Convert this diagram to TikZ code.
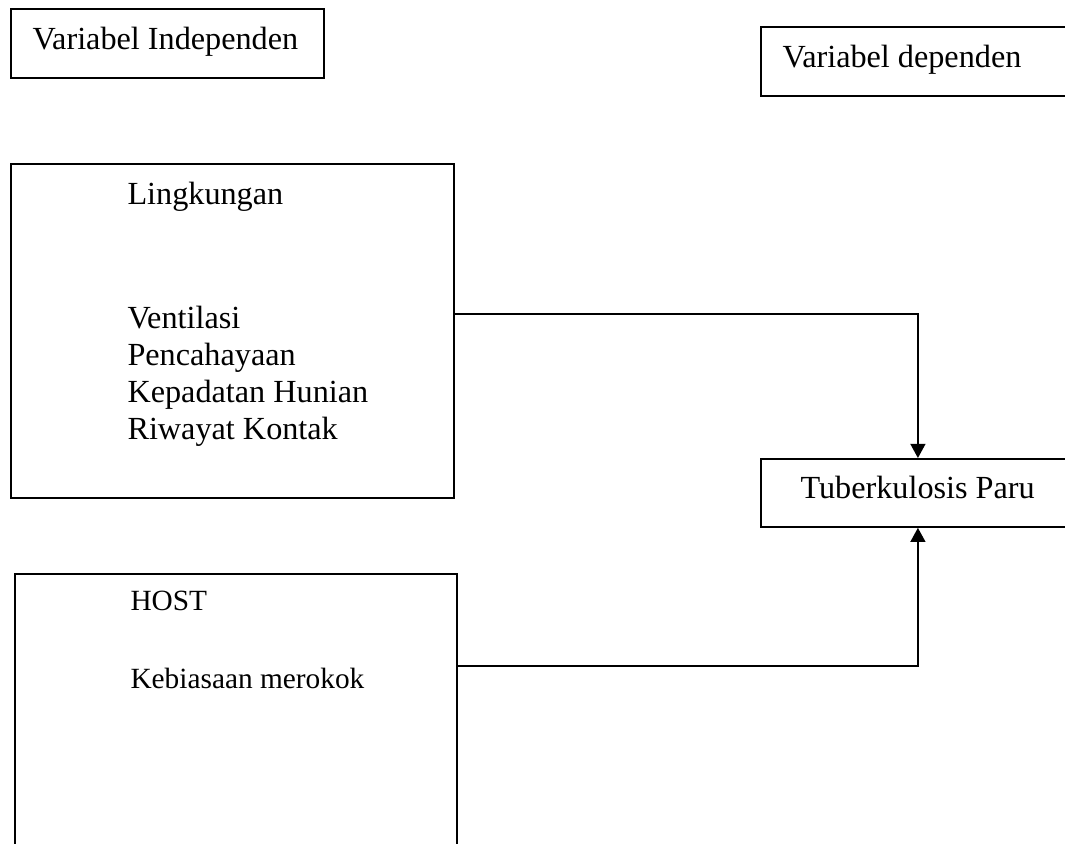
\documentclass[tikz,border=0pt]{standalone}
\usepackage{fontspec}
\setmainfont{Liberation Serif}
\usetikzlibrary{arrows.meta}
\newcommand{\unitpx}{0.3817pt}

\begin{document}
\begin{tikzpicture}[x=0.3817pt,y=-0.3817pt]
  \tikzset{
    box/.style={draw,line width=0.7pt,anchor=north west,inner sep=0pt},
    txt/.style={font=\fontsize{12.3}{14}\selectfont,anchor=base west,inner sep=0pt},
    smalltxt/.style={txt,font=\fontsize{11.2}{13}\selectfont},
    arr/.style={-{Triangle[length=5.4pt,width=5.7pt]},line width=0.7pt}
  }
  \useasboundingbox (0,0) rectangle (1065,843);
  \clip (0,0) rectangle (1065,843);

  % boxes
  \node[box,minimum width=313*\unitpx,minimum height=69*\unitpx] (vi) at (10,8) {};
  \node[box,minimum width=314*\unitpx,minimum height=69*\unitpx] (vd) at (760,26) {};
  \node[box,minimum width=443*\unitpx,minimum height=334*\unitpx] (ling) at (10,163) {};
  \node[box,minimum width=314*\unitpx,minimum height=68*\unitpx] (tb) at (760,458) {};
  \node[box,minimum width=442*\unitpx,minimum height=330*\unitpx] (host) at (14,573) {};

  % texts
  \node[txt] (vitxt) at (32,49) {Variabel Independen};
  \node[txt] (vdtxt) at (782,67) {Variabel dependen};
  \node[txt] (tbtxt) at (800,498) {Tuberkulosis Paru};
  \node[txt] (lingtxt) at (127,204) {Lingkungan};
  \foreach \t [count=\i] in {Ventilasi,Pencahayaan,Kepadatan Hunian,Riwayat Kontak}
    \node[txt] (lk\i) at (127,291+37*\i) {\t};
  \node[smalltxt] (hosttxt) at (130,610) {HOST};
  \node[smalltxt] (rokok) at (130,688) {Kebiasaan merokok};

  % connectors
  \coordinate (lingout) at (453,314);
  \coordinate (hostout) at (456,666);
  \draw[arr] (lingout) -| (tb.north);
  \draw[arr] (hostout) -| (tb.south);
\end{tikzpicture}
\end{document}
